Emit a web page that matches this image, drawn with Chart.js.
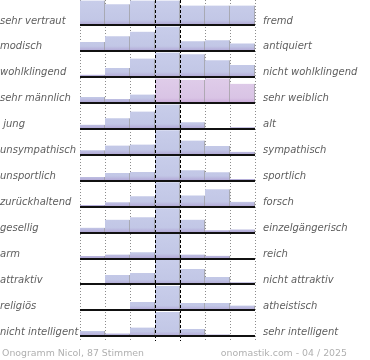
<!DOCTYPE html>
<html lang="de">
<head>
<meta charset="utf-8">
<title>Onogramm Nicol</title>
<script src="https://cdn.jsdelivr.net/npm/chart.js@4.4.1/dist/chart.umd.min.js"></script>
<style>
	html, body { margin: 0; padding: 0; background: #fff; }
	#wrap { width: 370px; height: 360px; }
</style>
</head>
<body>
<div id="wrap"><canvas id="onogramm" width="370" height="360"></canvas></div>
<script>
// 7 answer steps between the two poles of each row
const bins = ['1', '2', '3', '4', '5', '6', '7'];

const leftLabels = ['sehr vertraut', 'modisch', 'wohlklingend', 'sehr männlich', ' jung', 'unsympathisch', 'unsportlich', 'zurückhaltend', 'gesellig', 'arm', 'attraktiv', 'religiös', 'nicht intelligent'];
const rightLabels = ['fremd', 'antiquiert', 'nicht wohlklingend', 'sehr weiblich', 'alt', 'sympathisch', 'sportlich', 'forsch', 'einzelgängerisch', 'reich', 'nicht attraktiv', 'atheistisch', 'sehr intelligent'];

// relative share per step (tallest step = 100)
const vertrautFremd = [100, 85, 100, 100, 80, 80, 80];
const modischAntiquiert = [37, 60, 79, 100, 40, 44, 31];
const wohlklingend = [9, 36, 75, 100, 93, 68, 49];
const maennlichWeiblich = [24, 16, 34, 100, 94, 100, 78];
const jungAlt = [17, 43, 71, 100, 27, 0, 6];
const sympathisch = [18, 38, 42, 100, 58, 36, 12];
const sportlich = [15, 31, 36, 100, 43, 35, 7];
const zurueckhaltendForsch = [7, 18, 42, 100, 46, 71, 20];
const geselligEinzel = [20, 53, 63, 100, 53, 9, 13];
const armReich = [10, 16, 26, 100, 16, 11, 0];
const attraktiv = [0, 39, 47, 100, 63, 31, 9];
const religioesAtheistisch = [0, 0, 34, 100, 30, 30, 20];
const intelligent = [22, 12, 36, 100, 30, 8, 0];

const rows = [vertrautFremd, modischAntiquiert, wohlklingend, maennlichWeiblich, jungAlt, sympathisch, sportlich, zurueckhaltendForsch, geselligEinzel, armReich, attraktiv, religioesAtheistisch, intelligent];

const footerLeft = 'Onogramm Nicol, 87 Stimmen';
const footerRight = 'onomastik.com - 04 / 2025';

// row 4 is tinted pink from the middle step on
const pinkRow = 3;
const pinkFrom = 3;
const barSpan = 0.94;

const barFill = (ctx, row) => {
	const chart = ctx.chart;
	const y = chart.scales.y;
	const pink = row === pinkRow && ctx.dataIndex >= pinkFrom;
	if (!y || !chart.chartArea || ctx.dataIndex === undefined) return pink ? '#dcc8e6' : '#c5cbe8';
	const base = y.getPixelForValue(row + 1);
	const top = y.getPixelForValue(row + 1 - barSpan);
	const g = chart.ctx.createLinearGradient(0, top, 0, base);
	g.addColorStop(0, pink ? '#dfcce9' : '#c8cdea');
	g.addColorStop(0.8, pink ? '#d9c4e5' : '#c2c7e6');
	g.addColorStop(1, pink ? '#c9aad8' : '#b1a6d5');
	return g;
};

const sideLabels = {
	id: 'sideLabels',
	afterDraw(chart) {
		const { ctx, chartArea, scales: { y } } = chart;
		ctx.save();
		ctx.textBaseline = 'alphabetic';
		ctx.font = 'italic 10px "DejaVu Sans"';
		ctx.fillStyle = '#5e5e5e';
		leftLabels.forEach((txt, i) => {
			const py = y.getPixelForValue(i + 1) - 1.5;
			ctx.textAlign = 'left';
			ctx.fillText(txt, 0, py);
			ctx.fillText(rightLabels[i], chartArea.right + 8, py);
		});
		ctx.font = '9.4px "DejaVu Sans"';
		ctx.fillStyle = '#b0b0b0';
		ctx.textAlign = 'left';
		ctx.fillText(footerLeft, 2, chart.height - 4);
		ctx.textAlign = 'right';
		ctx.fillText(footerRight, chart.width - 23, chart.height - 4);
		ctx.restore();
	},
};

const isMiddle = (c) => c.index === 3 || c.index === 4;

new Chart(document.getElementById('onogramm'), {
	type: 'bar',
	data: {
		labels: bins,
		datasets: rows.map((vals, r) => ({
			label: leftLabels[r],
			data: vals.map((v) => [r + 1, r + 1 - (v / 100) * barSpan]),
			backgroundColor: (ctx) => barFill(ctx, r),
			borderColor: '#9a9a9a',
			borderWidth: { top: 0, right: 1, bottom: 0, left: 0 },
			borderSkipped: false,
			grouped: false,
			categoryPercentage: 1,
			barPercentage: 1,
		})),
	},
	plugins: [sideLabels],
	options: {
		responsive: false,
		animation: false,
		devicePixelRatio: 1,
		layout: { padding: { left: 80, right: 115, top: 0, bottom: 19 } },
		plugins: { legend: { display: false }, tooltip: { enabled: false } },
		scales: {
			x: {
				type: 'category',
				offset: true,
				ticks: { display: false },
				border: { display: false, dash: [1, 2] },
				grid: { offset: true, drawTicks: false, color: (c) => isMiddle(c) ? 'transparent' : '#8c8c8c' },
			},
			x2: {
				type: 'category',
				axis: 'x',
				position: 'bottom',
				labels: bins,
				offset: true,
				ticks: { display: false },
				border: { display: false, dash: [3, 2] },
				grid: { offset: true, drawTicks: false, z: 1, color: (c) => isMiddle(c) ? '#000' : 'transparent' },
			},
			y: {
				type: 'linear',
				reverse: true,
				min: 0.036,
				max: 13.18,
				afterBuildTicks: (s) => { s.ticks = rows.map((r, i) => ({ value: i + 1 })); },
				ticks: { display: false },
				border: { display: false },
				grid: { drawTicks: false, z: 1, color: '#111', lineWidth: 2 },
			},
		},
	},
});
</script>
</body>
</html>
